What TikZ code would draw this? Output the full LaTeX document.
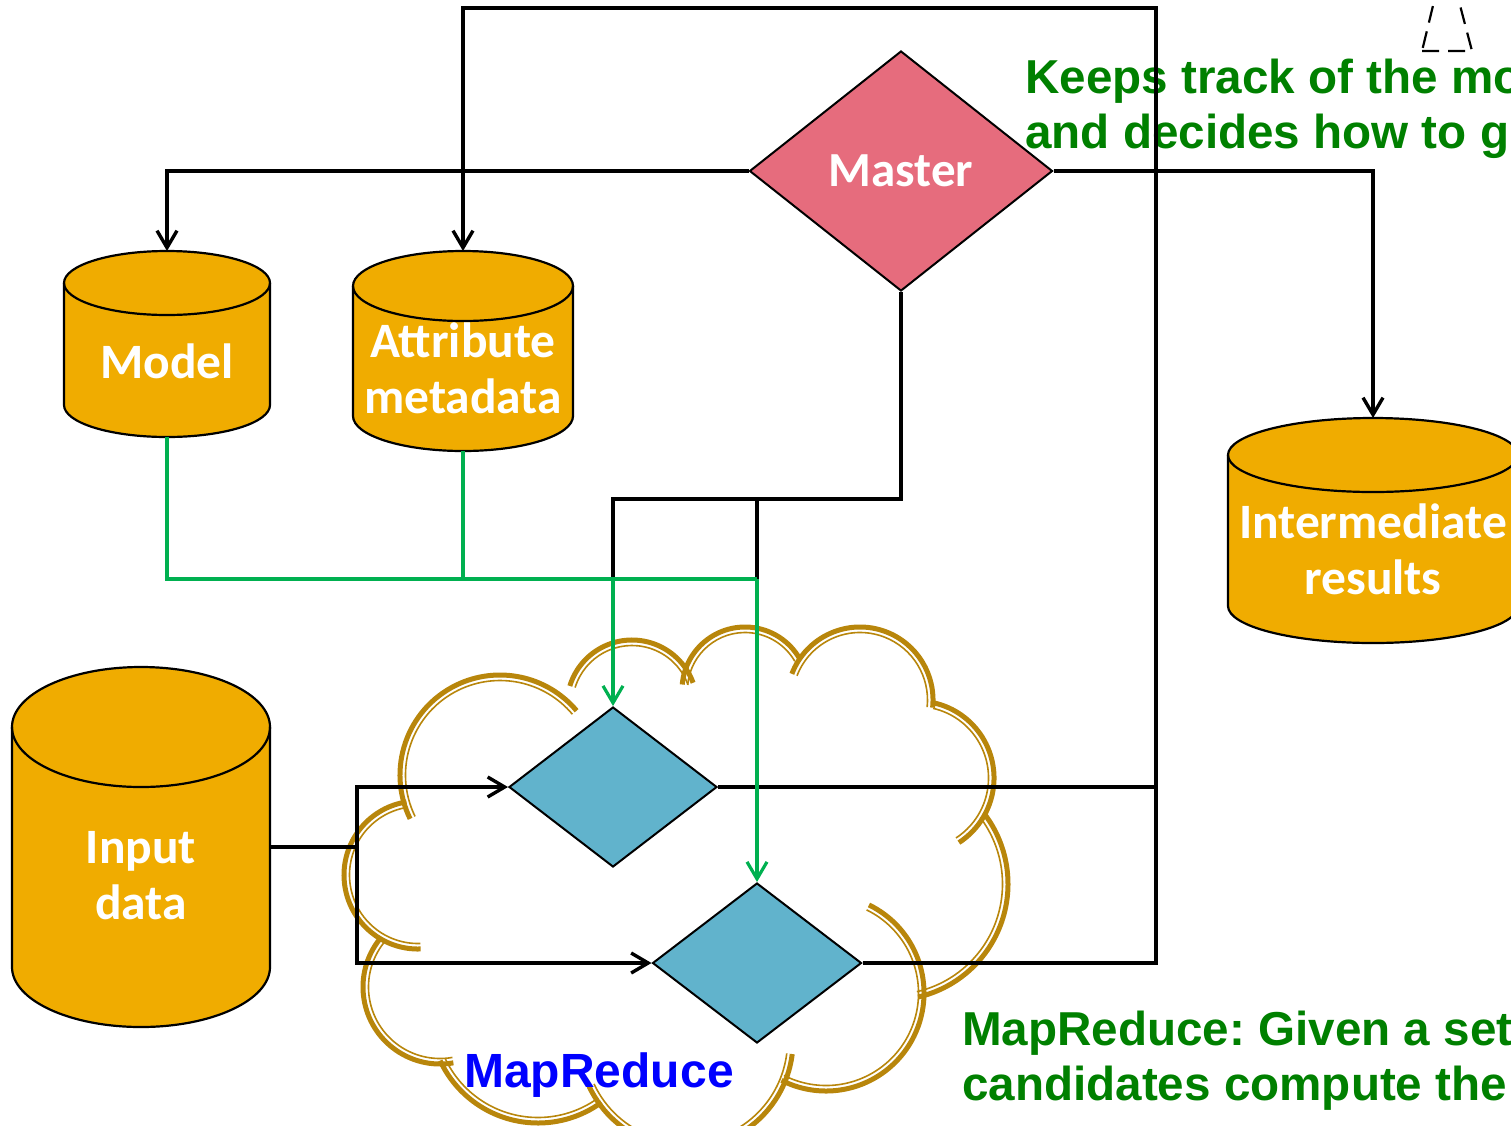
\documentclass[tikz,border=0pt]{standalone}
\usepackage{fontspec}
\setmainfont{Liberation Sans}
\newfontfamily\carl{Carlito}
\frenchspacing
\usetikzlibrary{shapes.geometric,arrows.meta}
\definecolor{cylfill}{RGB}{240,172,0}
\definecolor{masterfill}{RGB}{230,108,125}
\definecolor{mapfill}{RGB}{97,179,204}
\definecolor{gline}{RGB}{0,176,80}
\definecolor{cloudc}{RGB}{184,134,11}
\definecolor{gtext}{RGB}{0,128,0}
\definecolor{btext}{RGB}{0,0,255}
\tikzset{
 conn/.style={draw=black, line width=3.4pt, line join=miter},
 gconn/.style={draw=gline, line width=3.2pt},
 barb/.style={-{Straight Barb[length=17pt,width=20pt]}},
 barbboth/.style={{Straight Barb[length=17pt,width=20pt]}-{Straight Barb[length=17pt,width=20pt]}},
 dmd/.style={diamond, draw=black, line width=2pt, inner sep=0pt},
 cylbody/.style={fill=cylfill, draw=black, line width=2.2pt},
 cylline/.style={draw=black, line width=2.2pt},
 cyltext/.style={text=white, font=\carl\bfseries\fontsize{49.5}{56}\selectfont, align=center, inner sep=0pt},
 cloudthick/.style={draw=cloudc, line width=5pt},
 cloudthin/.style={draw=cloudc, line width=1.6pt},
 note/.style={text=gtext, font=\bfseries\fontsize{47.6}{55}\selectfont, align=left, inner sep=0pt},
}
\newcommand\cloudarc[5]{%
 \draw[cloudthick] (#1,#2) ++(#4:#3) arc[start angle=#4,end angle=#5,radius=#3];
 \draw[cloudthin] (#1,#2) ++(#4:{#3-5.5}) arc[start angle=#4,end angle=#5,radius={#3-5.5}];
}
\newcommand\mycyl[6]{%
 \node[inner sep=0pt, outer sep=0pt, minimum width={2*#5}, minimum height={#4-#3}] (#1) at (#2,{(#3+#4)/2}) {};
 \path[cylbody] ({#2-#5},{#3+#6}) -- ({#2-#5},{#4-#6})
   arc[start angle=180, end angle=0, x radius=#5, y radius=#6]
   -- ({#2+#5},{#3+#6})
   arc[start angle=0, end angle=-180, x radius=#5, y radius=#6] -- cycle;
 \draw[cylline] ({#2-#5},{#3+#6}) arc[start angle=180, end angle=0, x radius=#5, y radius=#6];
}
\begin{document}
\begin{tikzpicture}[x=1pt,y=-1pt]
\useasboundingbox (0,0) rectangle (1511,1125);
% cloud
\cloudarc{500}{775}{100}{154}{320}
\cloudarc{632}{705}{65}{197}{340}
\cloudarc{745}{690}{63}{185}{330}
\cloudarc{860}{700}{73}{201}{366}
\cloudarc{917}{778}{77}{283}{417}
\cloudarc{892}{884}{116}{-37}{77}
\cloudarc{826}{993}{98}{-64}{117}
\cloudarc{686}{1041}{107}{155}{7}
\cloudarc{538}{1015}{108}{155}{54}
\cloudarc{440}{987}{77}{218}{80}
\cloudarc{418}{875}{74}{261}{88}
% cylinders
\mycyl{model}{167}{251}{437}{103}{32}
\mycyl{attr}{463}{251}{451}{110}{35}
\mycyl{inter}{1373}{418}{643}{145}{37}
\mycyl{input}{141}{667}{1027}{129}{60}
\node[cyltext] (model-t) at (167,361) {Model};
\node[cyltext] (attr-t) at (463,368) {Attribute\\metadata};
\node[cyltext] (inter-t) at (1373,549) {Intermediate\\results};
\node[cyltext] (input-t) at (141,876) {Input\\data};
% diamonds
\node[dmd, fill=masterfill, minimum width=303pt, minimum height=240pt, text=white, font=\carl\bfseries\fontsize{49}{56}\selectfont] (master) at (901,171) {Master};
\node[dmd, fill=mapfill, minimum width=208pt, minimum height=160pt] (map1) at (613,787) {};
\node[dmd, fill=mapfill, minimum width=209pt, minimum height=160pt] (map2) at (757,963) {};
% texts
\node[note, anchor=north west] (note1) at (1025,59) {Keeps track of the mo\\and decides how to g};
\node[note, anchor=north west] (note2) at (962,1011) {MapReduce: Given a set\\candidates compute the};
\node[text=btext, font=\bfseries\fontsize{48}{55}\selectfont, inner sep=0pt] (mr) at (599,1075) {MapReduce};
% dashed triangle
\draw[line width=2.2pt, dash pattern=on 17pt off 9pt] (1422,51) -- (1472,51) -- (1446,-48) -- cycle;
% coordinates
\coordinate (tr) at (1156,8);
\coordinate (c1) at (1156,787);
\coordinate (k1) at (613,499);
\coordinate (k2) at (757,499);
\coordinate (g1) at (613,579);
\coordinate (g2) at (757,579);
\coordinate (i1) at (357,787);
\coordinate (i2) at (357,963);
% black connectors
\draw[conn, barb] (master.west) -| (model.north);
\draw[conn, barb] (master.east) -| (inter.north);
\draw[conn, barb] (map1.east) -| (tr) -| (attr.north);
\draw[line width=4.2pt] (c1) -- (tr);
\draw[conn] (map2.east) -| (c1);
\draw[conn] (master.south) |- (k1) -- (g1);
\draw[conn] (k2) -- (g2);
\draw[conn] (input.east) -- (input.east -| i1);
\draw[conn, barbboth] (map1.west) -| (i2) -- (map2.west);
% green connectors
\draw[gconn] (model.south) |- (g2);
\draw[gconn] (attr.south) -- (attr.south |- g2);
\draw[gconn, barb] (g1) -- (map1.north);
\draw[gconn, barb] (g2) -- (map2.north);
\end{tikzpicture}
\end{document}
